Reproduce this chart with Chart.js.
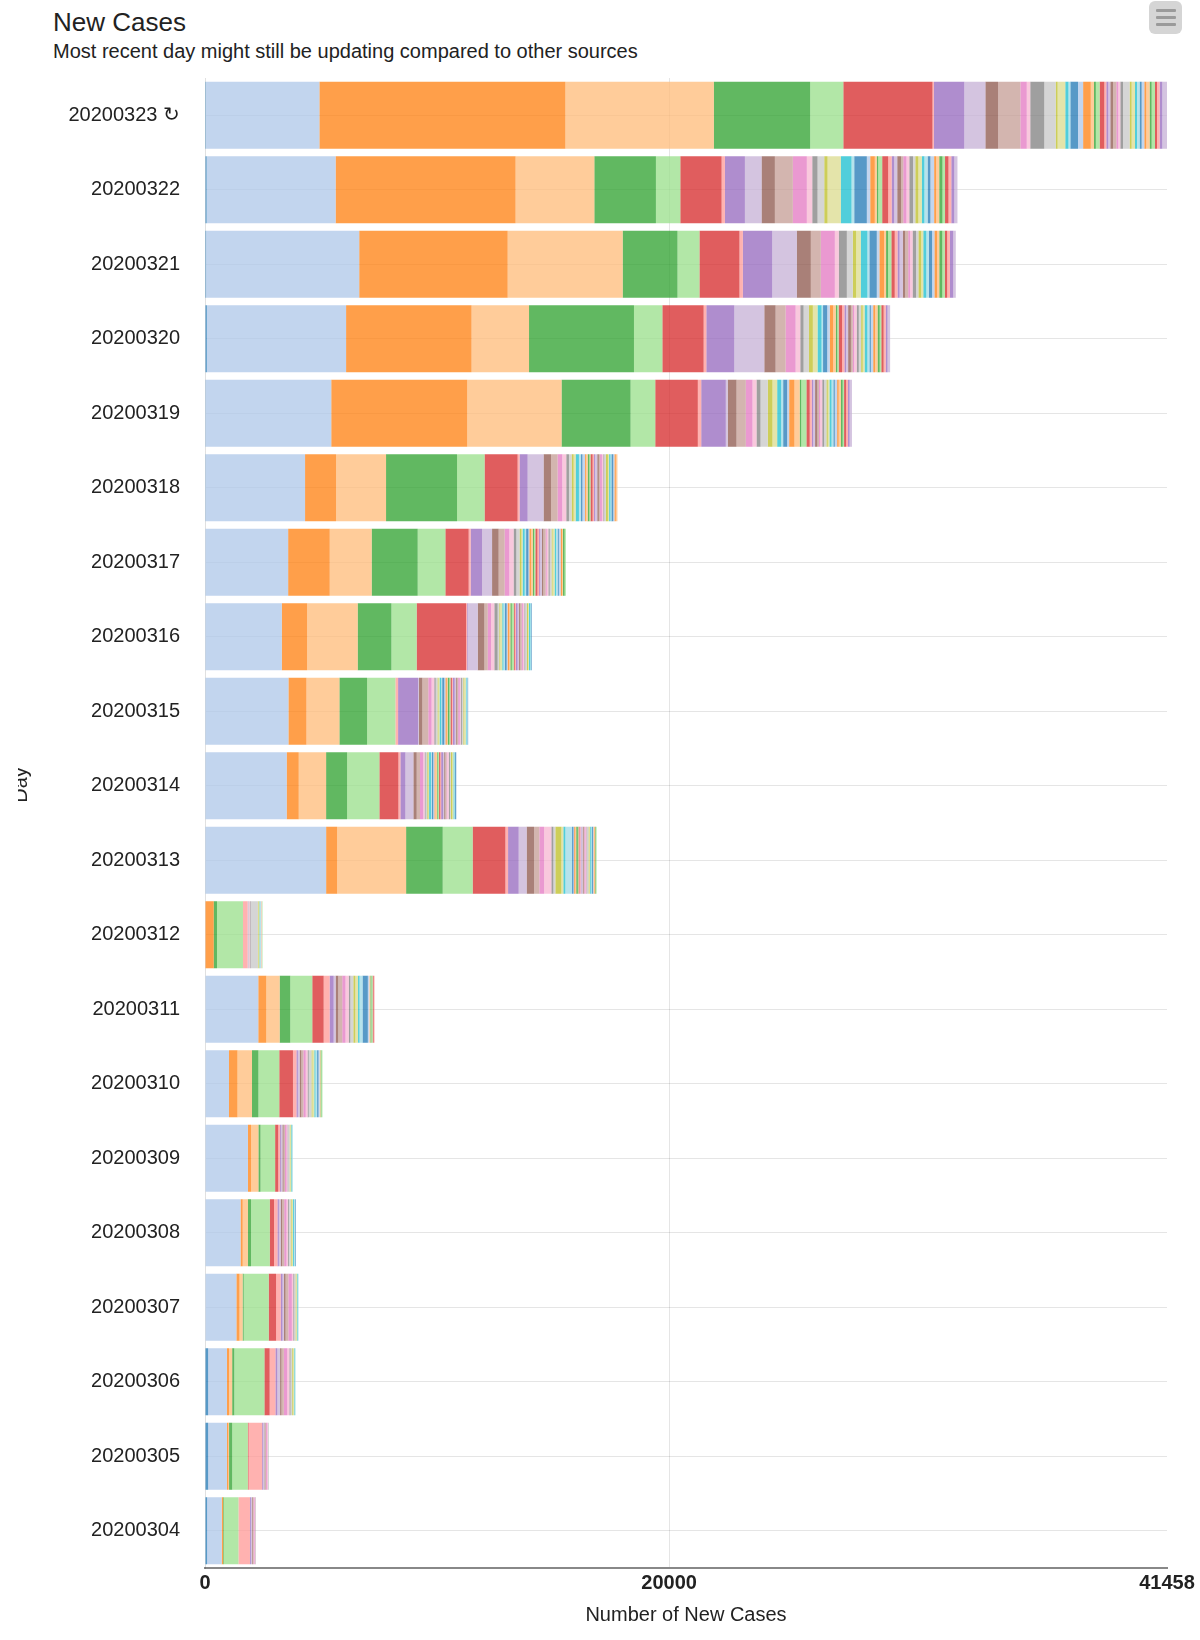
<!DOCTYPE html>
<html>
<head>
<meta charset="utf-8">
<script src="https://cdn.jsdelivr.net/npm/chart.js@4.4.1/dist/chart.umd.min.js"></script>
<style>
  html, body { margin:0; padding:0; background:#fff; width:1200px; height:1640px; overflow:hidden;
    font-family:"Liberation Sans", Arial, sans-serif; }
  #title { position:absolute; left:53px; top:9px; font-size:26px; line-height:26px; color:#222; white-space:nowrap; }
  #subtitle { position:absolute; left:53px; top:41px; font-size:20px; line-height:20px; color:#222; white-space:nowrap; }
  #menu { position:absolute; left:1149px; top:1px; width:33px; height:33px; background:#d5d5d5; border-radius:6px; }
  #menu span { position:absolute; left:7px; width:20px; height:3px; background:#9a9a9a; border-radius:1px; }
  #wrap { position:absolute; left:18px; top:0; width:1182px; height:1640px; }
</style>
</head>
<body>
<div id="title">New Cases</div>
<div id="subtitle">Most recent day might still be updating compared to other sources</div>
<div id="menu"><span style="top:8px"></span><span style="top:15px"></span><span style="top:22px"></span></div>
<div id="wrap"><canvas id="c" width="1182" height="1640"></canvas></div>
<script>
// ---- categories ----
const days = ['20200323','20200322','20200321','20200320','20200319','20200318','20200317',
  '20200316','20200315','20200314','20200313','20200312','20200311','20200310','20200309',
  '20200308','20200307','20200306','20200305','20200304'];
const latestMark = ' \u21BB';
const xTitle = 'Number of New Cases';
const yTitle = 'Day';
const xTicks = [0, 20000, 41458];
const xMax = 41458;

// ---- new cases per day, one value per country in stacking order ----
const v20200323 = [40, 4890, 10600, 6400, 4149, 1430, 3843, 60, 1310, 909, 547, 961, 276, 150, 603, 494, 82, 330, 137, 82, 330, 220, 330, 137, 82, 165, 200, 86, 86, 86, 115, 144, 86, 86, 115, 287, 86, 144, 86, 115, 86, 115, 86, 144, 86, 144, 86, 115, 115, 202];
const v20200322 = [70, 5560, 7754, 3395, 2654, 1051, 1779, 142, 862, 719, 573, 775, 603, 233, 228, 289, 142, 573, 461, 116, 543, 146, 198, 86, 60, 172, 258, 150, 110, 130, 170, 90, 140, 120, 160, 100, 130, 150, 110, 140, 120, 160, 90, 130, 140, 110, 150, 120, 130, 136];
const v20200321 = [46, 6600, 6397, 4958, 2361, 948, 1723, 147, 1262, 1064, 603, 431, 603, 172, 345, 258, 142, 202, 284, 86, 319, 112, 202, 86, 86, 142, 146, 120, 90, 140, 100, 130, 80, 110, 150, 100, 120, 90, 130, 110, 140, 100, 120, 90, 130, 110, 100, 120, 140, 111];
const v20200320 = [80, 6000, 5407, 2477, 4523, 1223, 1779, 116, 1206, 1292, 487, 431, 431, 202, 142, 228, 172, 202, 172, 65, 180, 112, 146, 112, 60, 65, 146, 100, 70, 90, 120, 80, 60, 110, 90, 100, 70, 80, 120, 90, 60, 100, 80, 110, 90, 70, 100, 90, 80, 110];
const v20200319 = [30, 5411, 5859, 4067, 2973, 1064, 1835, 146, 1060, 86, 375, 401, 289, 172, 172, 314, 202, 202, 172, 86, 172, 86, 228, 228, 65, 224, 142, 90, 60, 80, 100, 70, 50, 90, 80, 100, 60, 70, 90, 80, 60, 100, 70, 90, 80, 60, 90, 80, 70, 100];
const v20200318 = [30, 4282, 1336, 2154, 3059, 1189, 1422, 86, 345, 689, 319, 284, 202, 172, 116, 116, 86, 86, 142, 90, 60, 110, 40, 80, 70, 50, 90, 60, 40, 100, 70, 50, 80, 60, 40, 70, 90, 50, 60, 40, 80, 50, 60, 70];
const v20200317 = [20, 3563, 1792, 1809, 1982, 1193, 1004, 86, 491, 431, 284, 258, 202, 185, 116, 142, 80, 50, 90, 60, 100, 40, 70, 80, 50, 60, 90, 70, 40, 80, 60, 100, 50, 70, 60, 80, 40, 90, 60, 70, 50, 80, 60, 40, 70, 54];
const v20200316 = [20, 3291, 1090, 2180, 1452, 1090, 2128, 43, 30, 431, 284, 146, 142, 142, 142, 70, 40, 90, 50, 60, 80, 40, 70, 50, 60, 90, 40, 50, 70, 60, 40, 80, 50, 60, 40, 70, 50, 40, 60, 30, 28];
const v20200315 = [20, 3576, 775, 1422, 1193, 1219, 0, 116, 862, 40, 142, 258, 142, 116, 60, 80, 40, 50, 70, 40, 90, 50, 60, 40, 70, 50, 60, 40, 80, 50, 40, 60, 70, 40, 50, 60, 40, 70, 30, 40, 29];
const v20200314 = [20, 3502, 517, 1180, 905, 1392, 819, 86, 215, 345, 142, 142, 142, 60, 40, 70, 50, 30, 80, 40, 60, 50, 40, 70, 30, 60, 50, 40, 80, 50, 40, 60, 30, 70, 50, 40, 60, 50, 40, 30, 50];
const v20200313 = [20, 5200, 474, 2973, 1577, 1292, 1409, 116, 457, 345, 319, 228, 202, 315, 86, 86, 258, 86, 86, 289, 60, 30, 50, 40, 70, 30, 40, 50, 30, 60, 40, 30, 50, 40, 30, 60, 40, 30, 50, 30, 40, 30, 40, 30, 30, 29];
const v20200312 = [0, 0, 375, 0, 142, 1120, 0, 200, 0, 40, 0, 30, 0, 40, 30, 300, 30, 40, 30, 20, 0, 30, 0, 30, 0, 20];
const v20200311 = [0, 2296, 345, 577, 457, 948, 491, 258, 172, 86, 112, 172, 142, 142, 65, 130, 86, 116, 65, 130, 228, 60, 0, 50, 40, 60, 40, 40];
const v20200310 = [0, 1034, 366, 625, 276, 900, 590, 150, 60, 80, 70, 90, 100, 80, 50, 120, 40, 80, 50, 70, 60, 50, 0, 40, 30, 50];
const v20200309 = [0, 1852, 135, 315, 90, 630, 135, 80, 40, 60, 50, 60, 70, 40, 30, 60, 30, 40, 30, 40];
const v20200308 = [0, 1534, 90, 225, 135, 810, 180, 150, 60, 80, 60, 90, 100, 60, 40, 80, 40, 60, 40, 50, 30];
const v20200307 = [0, 1353, 135, 135, 45, 1080, 315, 200, 80, 60, 70, 120, 150, 60, 40, 60, 30, 40, 30, 30];
const v20200306 = [135, 811, 90, 135, 90, 1300, 225, 250, 80, 120, 60, 100, 150, 90, 50, 70, 40, 50, 30, 30];
const v20200305 = [135, 811, 60, 30, 135, 676, 30, 586, 40, 60, 30, 40, 50, 30, 20];
const v20200304 = [90, 631, 60, 0, 30, 631, 0, 496, 40, 50, 30, 40, 40, 30, 20];

const rows = [v20200323, v20200322, v20200321, v20200320, v20200319, v20200318, v20200317,
  v20200316, v20200315, v20200314, v20200313, v20200312, v20200311, v20200310, v20200309,
  v20200308, v20200307, v20200306, v20200305, v20200304];

const palette = ['#1f77b4','#aec7e8','#ff7f0e','#ffbb78','#2ca02c','#98df8a','#d62728','#ff9896',
  '#9467bd','#c5b0d5','#8c564b','#c49c94','#e377c2','#f7b6d2','#7f7f7f','#c7c7c7',
  '#bcbd22','#dbdb8d','#17becf','#9edae5'];

function rgba(hex, a) {
  const n = parseInt(hex.slice(1), 16);
  return 'rgba(' + ((n >> 16) & 255) + ',' + ((n >> 8) & 255) + ',' + (n & 255) + ',' + a + ')';
}

const nSeries = Math.max(...rows.map(r => r.length));
const datasets = [];
for (let s = 0; s < nSeries; s++) {
  datasets.push({
    label: 'Country ' + (s + 1),
    data: rows.map(r => r[s] || 0),
    backgroundColor: rgba(palette[s % palette.length], 0.75),
    borderWidth: 0,
    barPercentage: 0.9,
    categoryPercentage: 1
  });
}

const labels = days.map((d, i) => i === 0 ? d + latestMark : d);

Chart.defaults.font.family = '"Liberation Sans", Arial, sans-serif';
Chart.defaults.color = '#222';

const dayTitlePlugin = {
  id: 'dayTitle',
  afterDraw(chart) {
    const ctx = chart.ctx;
    ctx.save();
    ctx.translate(3.8, 785);
    ctx.rotate(-Math.PI / 2);
    ctx.font = '20px "Liberation Sans", Arial, sans-serif';
    ctx.fillStyle = '#222';
    ctx.textAlign = 'center';
    ctx.textBaseline = 'middle';
    ctx.fillText(yTitle, 0, 0);
    ctx.restore();
  }
};

new Chart(document.getElementById('c'), {
  type: 'bar',
  data: { labels: labels, datasets: datasets },
  plugins: [dayTitlePlugin],
  options: {
    indexAxis: 'y',
    responsive: false,
    animation: false,
    layout: { padding: { top: 78, right: 33, bottom: 0, left: 0 } },
    plugins: { legend: { display: false }, tooltip: { enabled: false } },
    scales: {
      x: {
        type: 'linear',
        stacked: true,
        min: 0,
        max: xMax,
        afterBuildTicks: (scale) => { scale.ticks = xTicks.map(v => ({ value: v })); },
        afterFit: (scale) => { scale.height = 72; },
        ticks: {
          autoSkip: false,
          maxRotation: 0,
          padding: 3,
          font: { size: 20, weight: 'bold' },
          color: '#222',
          callback: (v) => String(v)
        },
        grid: {
          drawTicks: false,
          color: (ctx) => (ctx.tick && ctx.tick.value === 20000) ? 'rgba(0,0,0,0.1)' : 'rgba(0,0,0,0)'
        },
        border: { display: true, color: '#888', width: 2 },
        title: { display: true, text: xTitle, font: { size: 20 }, color: '#222', padding: { top: 0, bottom: 13 } }
      },
      y: {
        type: 'category',
        stacked: true,
        afterFit: (scale) => { scale.width = 187; },
        ticks: { padding: 25, font: { size: 20 }, color: '#222', autoSkip: false },
        grid: { offset: false, drawTicks: false, color: 'rgba(0,0,0,0.1)' },
        border: { display: true, color: 'rgba(0,0,0,0.12)', width: 1 }
      }
    }
  }
});
</script>
</body>
</html>
